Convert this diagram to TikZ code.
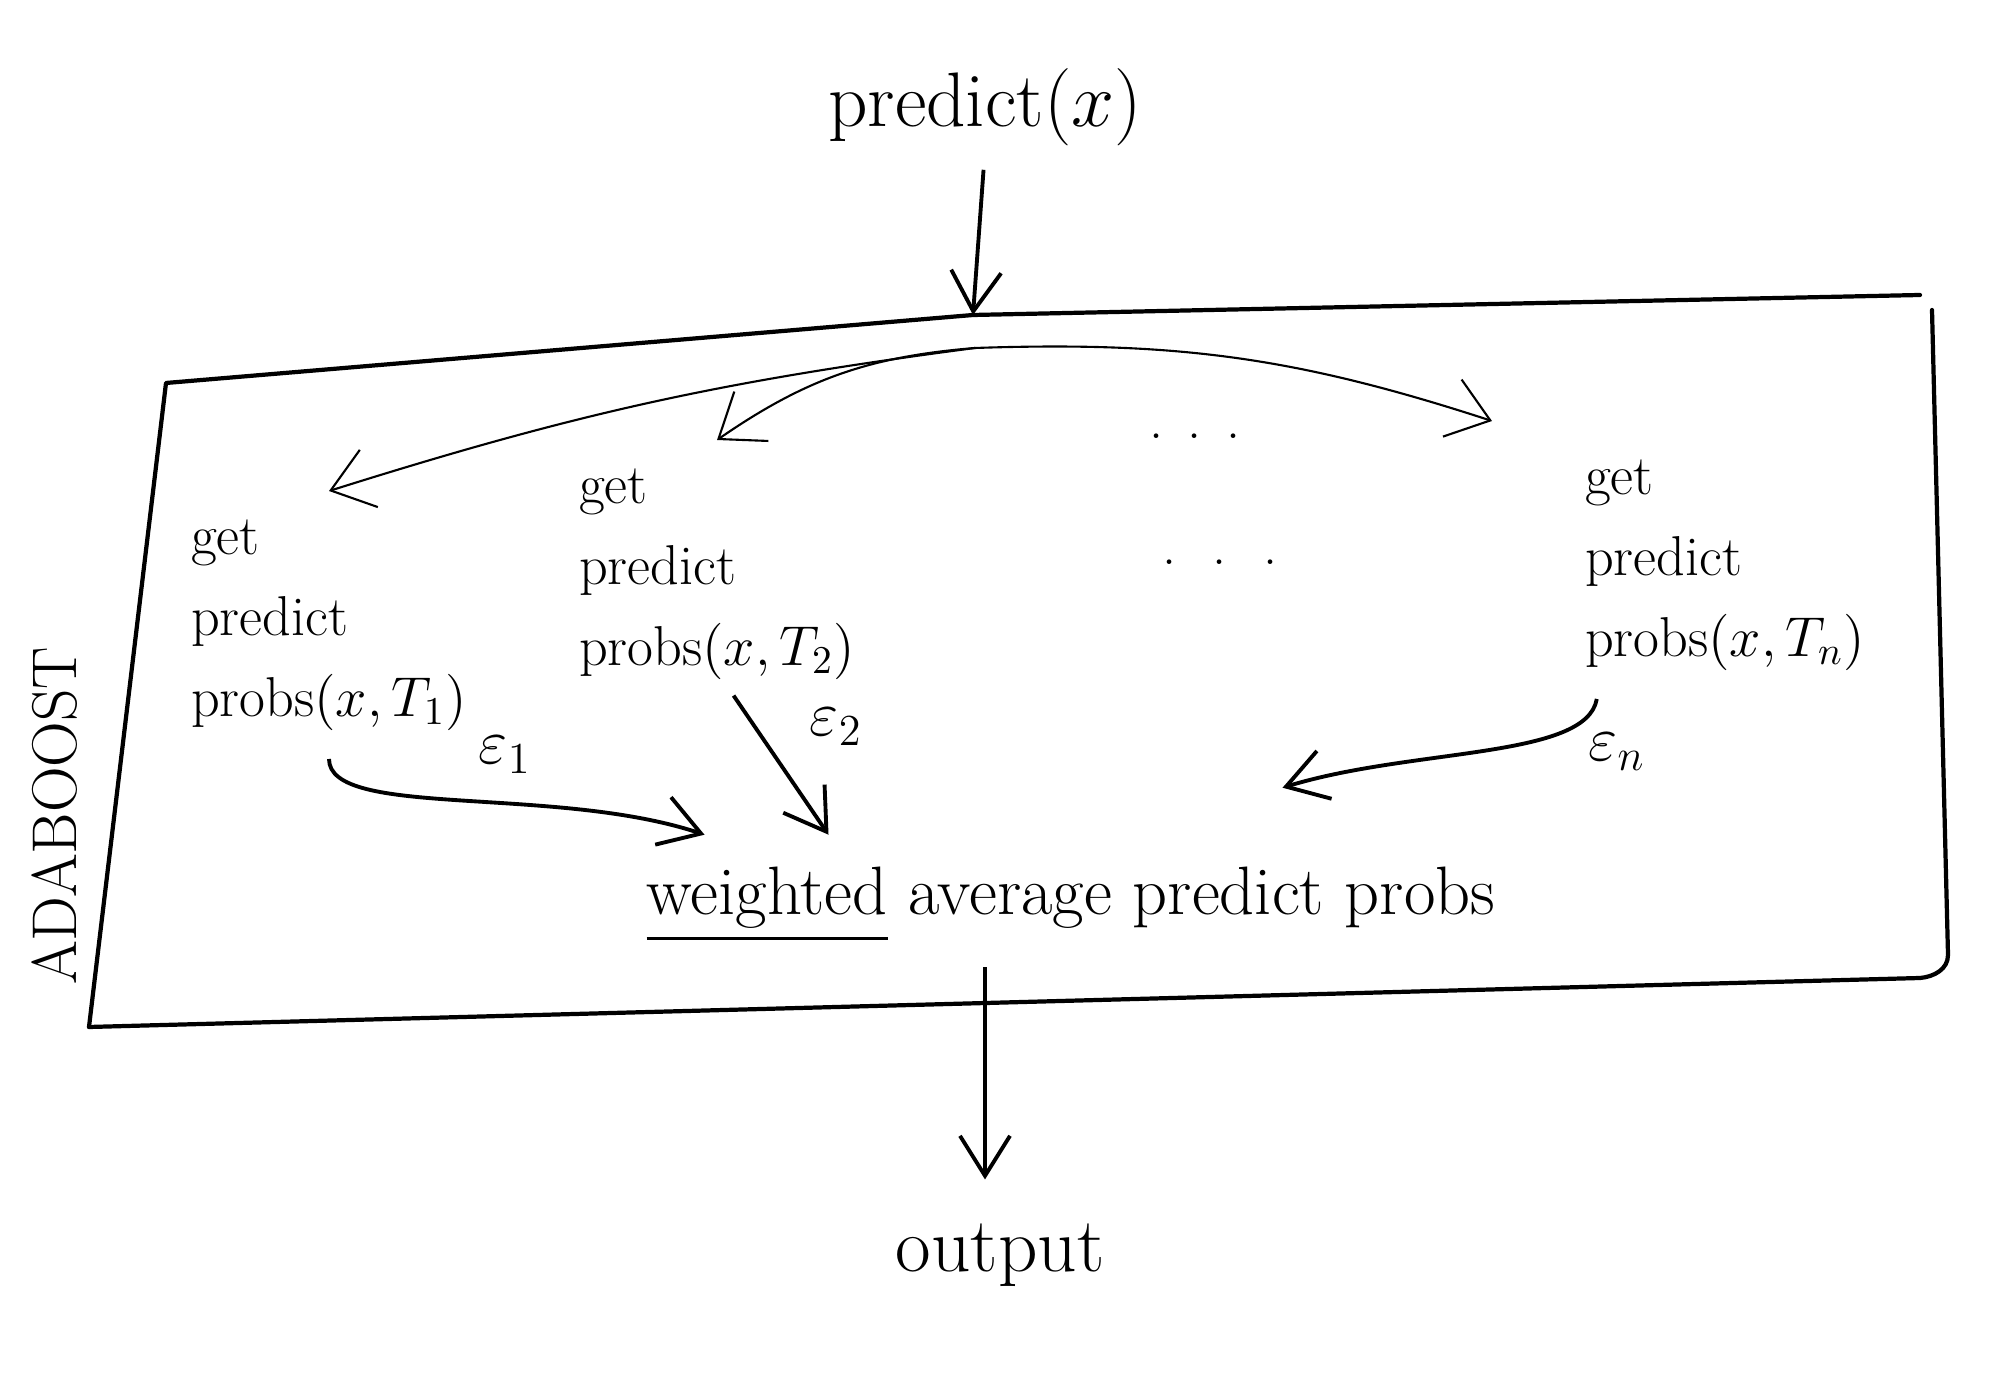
\RequirePackage{fix-cm}
\documentclass[tikz,border=0pt]{standalone}
\usepackage{amsmath}
\usetikzlibrary{arrows.meta,calc}

\begin{document}
\begin{tikzpicture}[
    title/.style={font=\fontsize{22}{26}\selectfont, inner sep=1pt},
    hand/.style={font=\fontsize{16}{23}\selectfont, align=left, inner sep=8pt},
    avgtext/.style={font=\fontsize{19.5}{23}\selectfont, inner sep=1pt},
    frame/.style={line width=1.2pt, line cap=round, line join=round},
    thin flow/.style={-{Straight Barb[length=4mm,width=6mm]}, line width=0.6pt},
    flow/.style={-{Straight Barb[length=4mm,width=5mm]}, line width=1.1pt},
  ]
  \useasboundingbox (0,0) rectangle (20,-13.78);

  % input and output
  \node[title] (in) at (9.85,-1.07) {predict($x$)};
  \node[title] (out) at (10.0,-12.55) {output};

  % frame of the booster
  \coordinate (tl) at (1.66,-3.83);
  \coordinate (tm) at (9.73,-3.15);
  \coordinate (tr) at (19.20,-2.95);
  \coordinate (rt) at (19.32,-3.10);
  \coordinate (rb) at (19.48,-9.55);
  \coordinate (br) at (19.20,-9.78);
  \coordinate (bl) at (0.89,-10.27);
  \draw[frame] (bl) -- (tl) -- (tm) -- (tr);
  \draw[frame] (rt) -- (rb) to[out=-90,in=5] (br) -- (bl);
  \node[font=\fontsize{18}{20}\selectfont, rotate=90] (ada) at (0.55,-8.16) {ADABOOST};

  % weak learners
  \node[hand] (t1) at (3.29,-6.25) {get\\predict\\probs$(x,T_1)$};
  \node[hand] (t2) at (7.17,-5.74) {get\\predict\\probs$(x,T_2)$};
  \node[hand] (tn) at (17.25,-5.65) {get\\predict\\probs$(x,T_n)$};
  \node[hand, inner sep=1pt] (dotsa) at (11.95,-4.36) {.\hspace{2.4mm}.\hspace{2.4mm}.};
  \node[hand, inner sep=1pt] (dotsb) at (12.20,-5.62) {.\hspace{3.6mm}.\hspace{3.6mm}.};

  % combination
  \node[avgtext] (avg) at (10.71,-9.05) {\underline{weighted} average predict probs};

  % connectors
  \coordinate (fork) at (9.75,-3.48);
  \coordinate (tnin) at (14.92,-4.21);
  \coordinate (e1end) at ($(avg.north west)+(0.62,0.28)$);
  \coordinate (e2end) at ($(avg.north west)+(1.86,0.28)$);
  \coordinate (enend) at ($(avg.north west)+(6.40,0.75)$);
  \draw[flow, shorten <=2mm] (in.south) -- (tm);
  \draw[thin flow] (fork) to[bend right=5] (t1.north);
  \draw[thin flow] (fork) to[bend right=15] (t2.north);
  \draw[thin flow] (fork) to[bend left=10] (tnin);
  \draw[flow] (t1.south) .. controls +(0,-0.6) and +(-1.5,0.5) .. (e1end);
  \draw[flow, shorten <=-1.5mm] ($(t2.south)!0.15!(t2.south east)$) -- (e2end);
  \draw[flow] ($(tn.south west)!0.12!(tn.south east)$) .. controls +(-0.1,-0.6) and +(1.3,0.4) .. (enend);
  \draw[flow, shorten <=2mm, shorten >=4mm] (avg.south -| in) -- (out.north -| in);

  % weights
  \node[font=\fontsize{18}{20}\selectfont] (w1) at (5.05,-7.55) {$\varepsilon_1$};
  \node[font=\fontsize{18}{20}\selectfont] (w2) at (8.36,-7.27) {$\varepsilon_2$};
  \node[font=\fontsize{18}{20}\selectfont] (wn) at (16.17,-7.52) {$\varepsilon_n$};
\end{tikzpicture}
\end{document}
